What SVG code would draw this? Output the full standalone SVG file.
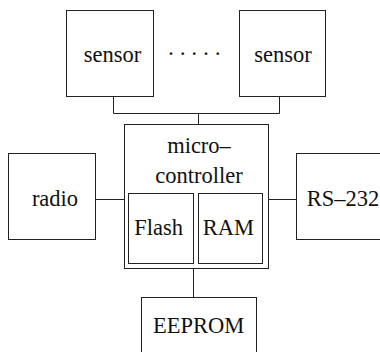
<svg xmlns="http://www.w3.org/2000/svg" width="380" height="352" viewBox="0 0 380 352">
<style>
.box{fill:#fff;stroke:#222;stroke-width:1}
.ln{fill:none;stroke:#222;stroke-width:1}
.t{font-size:22.5px;fill:#111}
</style>
<rect width="380" height="352" fill="#fff"/>
<g id="connectors">
<path class="ln" d="M113.5 96.5V113.5H279.5V96.5M198.5 113.5V124.5"/>
<path class="ln" d="M95.5 199.5H124.5"/>
<path class="ln" d="M268.5 199.5H296.5"/>
<path class="ln" d="M193.5 268.5V297.5"/>
</g>
<g font-family="'Liberation Serif', 'DejaVu Serif', 'Times New Roman', serif">
<g id="sensor1">
<rect class="box" x="66.5" y="10.5" width="87" height="86"/>
<text class="t" x="112.5" y="61.7" text-anchor="middle">sensor</text>
</g>
<g id="dots">
<text class="t" x="167.2 178.9 190.5 202.2 213.9" y="60.5">·····</text>
</g>
<g id="sensor2">
<rect class="box" x="239.5" y="10.5" width="86" height="86"/>
<text class="t" x="283" y="61.7" text-anchor="middle">sensor</text>
</g>
<g id="microcontroller">
<rect class="box" x="124.5" y="124.5" width="144" height="144"/>
<text class="t" x="199" y="153.3" text-anchor="middle">micro–</text>
<text class="t" x="199" y="183.3" text-anchor="middle">controller</text>
</g>
<g id="flash">
<rect class="box" x="128.5" y="193.5" width="65" height="70"/>
<text class="t" x="158.7" y="235" text-anchor="middle">Flash</text>
</g>
<g id="ram">
<rect class="box" x="198.5" y="193.5" width="64" height="70"/>
<text class="t" x="228.3" y="235" text-anchor="middle">RAM</text>
</g>
<g id="radio">
<rect class="box" x="8.5" y="153.5" width="87" height="86"/>
<text class="t" x="55" y="206" text-anchor="middle">radio</text>
</g>
<g id="rs232">
<rect class="box" x="296.5" y="153.5" width="100" height="86"/>
<text class="t" x="306.7" y="206">RS–232</text>
</g>
<g id="eeprom">
<rect class="box" x="141.5" y="297.5" width="115" height="80"/>
<text class="t" x="198.7" y="332.7" text-anchor="middle">EEPROM</text>
</g>
</g>
</svg>
